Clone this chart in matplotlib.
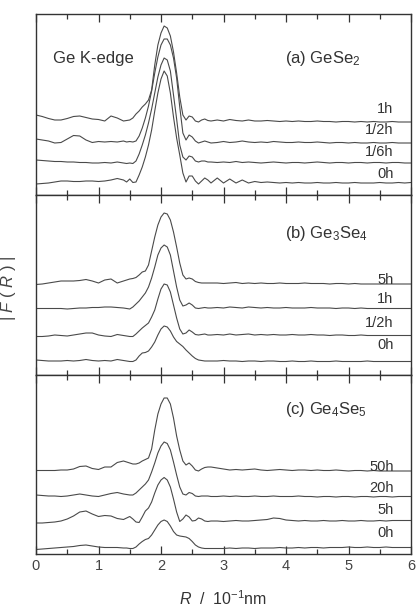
import numpy as np
import matplotlib
matplotlib.use("Agg")
import matplotlib.pyplot as plt
from matplotlib.ticker import MultipleLocator

plt.rcParams['font.family'] = ['Liberation Sans', 'DejaVu Sans']
plt.rcParams['mathtext.fontset'] = 'custom'
plt.rcParams['mathtext.rm'] = 'Liberation Sans'
plt.rcParams['mathtext.it'] = 'Liberation Sans:italic'
plt.rcParams['mathtext.bf'] = 'Liberation Sans:bold'

# R grid (10^-1 nm): coarse, fine around the first shell peak, coarse
r = np.concatenate([np.linspace(0.0, 1.4, 15),
                    np.linspace(1.45, 2.8, 28),
                    np.linspace(2.9, 6.0, 32)])

# |F(R)| (arbitrary units, offsets included)
a_0h = [11, 11.5, 12, 13, 14, 14, 13.5, 13.5, 14, 14, 13.5, 14, 15, 16.5, 15,
        13, 16, 12.5, 13, 20, 28, 38, 50, 65, 84, 102, 116, 124, 119, 102, 78, 57, 40, 22, 13,
        19, 19, 14, 11, 14, 17, 15, 12,
        17, 12, 16, 12, 15, 12, 13.5, 12.5, 13, 12.5, 12, 12.5, 12, 12.5, 12, 12,
        12.5, 12, 12, 12.5, 12, 12, 12.5, 12, 12, 12, 12.5, 12, 12, 12.5, 12, 12.5]
a_16h = [35, 34.5, 34, 33.5, 33.5, 33, 33, 32.5, 32.5, 32, 32, 32.5, 32, 33, 32,
         31.5, 32, 31.5, 34, 41, 50, 60, 72, 86, 102, 118, 130, 137, 135, 124, 100, 76, 50, 38, 35,
         39, 38, 34, 33, 34, 34, 33, 33,
         32.5, 33, 32.5, 33.5, 32.5, 33, 32.5, 32, 32.5, 33, 32.5, 32, 32.5, 32.5, 32, 32.5,
         33, 32.5, 32, 32.5, 32.5, 32, 32.5, 32.5, 32, 32.5, 32.5, 32, 32.5, 32.5, 32, 32]
a_12h = [56, 55, 54, 52, 52.5, 56, 59.5, 59, 55, 52.5, 53.5, 53, 53.5, 53, 54,
         53, 53.5, 53, 54, 59, 67, 77, 89, 104, 122, 138, 150, 156, 156, 150, 137, 117, 88, 62, 55,
         60, 58, 54, 52, 53, 54, 53, 52,
         52.5, 53.5, 52.5, 53, 54, 53, 52.5, 53, 52.5, 53.5, 53, 52.5, 52.5, 53, 52.5, 52.5,
         53, 52.5, 52, 52.5, 52.5, 52, 52.5, 52, 52, 52.5, 52, 52, 52.5, 52, 52, 52]
a_1h = [80, 78.5, 76.5, 75, 75, 76.5, 78.5, 79, 77.5, 76, 75.5, 74, 79, 77, 74,
        74.5, 75, 77, 81, 84, 88, 91, 95, 105, 130, 150, 162, 169, 167, 159, 143, 122, 98, 80, 75,
        79, 78, 74, 73, 75, 76, 74.5, 74,
        75, 74, 75.5, 74.5, 74, 75, 74, 74, 74.5, 74, 73.5, 74, 73.5, 74, 73.5, 73.5,
        74, 73.5, 73.5, 73, 73.5, 73.5, 73, 73.5, 73, 73.5, 73, 73, 73.5, 73, 73, 73]

b_0h = [15, 14.5, 14, 14, 14, 14.5, 14, 14.5, 15.5, 14.5, 14, 14.5, 14, 15.5, 14.5,
        14, 13.5, 13.5, 15, 19, 22, 22.5, 24, 28, 33, 40, 46, 49, 48, 44, 38, 33.5, 31, 28.5, 25,
        22, 19, 16.5, 15, 14.5, 14, 14, 14,
        14, 14.5, 14, 14, 13.5, 14, 14, 13.5, 14, 14, 13.5, 13.5, 14, 13.5, 13.5, 14,
        13.5, 13.5, 13.5, 14, 13.5, 13.5, 13.5, 13.5, 14, 13.5, 13.5, 13.5, 13.5, 13.5, 13.5, 13.5]
b_12h = [38.5, 38.5, 39, 40, 39.5, 39, 40, 41, 42, 42, 40, 39, 38.5, 40.5, 39.5,
         39, 38.5, 38.5, 41, 44, 47, 49.5, 52, 58, 65, 76, 86, 91, 90, 83, 70, 57, 46, 41, 42,
         45, 43, 40.5, 40, 40.5, 41, 40, 40,
         40.5, 40, 41, 40, 40.5, 41, 40, 40.5, 40, 40.5, 40, 40, 40.5, 40, 40, 40.5,
         40, 40, 39.5, 40, 40, 39.5, 39.5, 40, 39.5, 39.5, 39.5, 39.5, 39.5, 39.5, 39.5, 39.5]
b_1h = [66.5, 66.5, 66.5, 66.5, 66.5, 66, 66.5, 67, 67, 67.5, 67.5, 68, 68, 67.5, 67,
        66.5, 66, 68, 71, 74, 78, 82, 88, 97, 108, 120, 127, 130, 128, 120, 104, 88, 75, 69, 70,
        72, 70, 67, 66.5, 67, 67.5, 67, 67,
        67.5, 67, 68, 67.5, 67, 68, 67.5, 67, 67.5, 67, 67, 67.5, 67, 67, 67, 67.5,
        67, 67, 67, 66.5, 67, 67, 66.5, 67, 66.5, 66.5, 66.5, 66.5, 66.5, 66.5, 66.5, 66.5]
b_5h = [90.5, 91, 92, 93, 94, 94, 94, 94.5, 95.5, 94, 92, 95, 96, 92, 94,
        95, 96, 96.5, 97.5, 100, 103, 104, 110, 124, 138, 150, 158, 162, 161, 155, 143, 128, 112, 100, 96,
        97, 96, 93.5, 92.5, 92, 92, 92, 92,
        92, 91.5, 92, 92.5, 91.5, 92, 91.5, 92, 91.5, 91.5, 92, 91.5, 91.5, 91.5, 92, 91.5,
        91.5, 91.5, 91, 91.5, 91.5, 91, 91.5, 91, 91, 91, 91, 91, 91, 91, 91, 91]

c_0h = [4.5, 5, 5.5, 6, 6.5, 7, 7.5, 8.5, 9, 8, 7, 6.5, 6.5, 6.5, 6,
        6, 5.5, 5.5, 7, 10, 12.5, 14.5, 15.5, 19, 24, 29, 32.5, 34, 32.5, 28, 22.5, 19, 18, 17.5, 17,
        15.5, 12.5, 9, 7, 6, 5.5, 5.5, 5.5,
        5.5, 5.5, 6, 5.5, 6, 6, 5.5, 6, 6, 6, 6.5, 6, 6, 6.5, 6, 6.5,
        6.5, 6, 6.5, 6.5, 6.5, 7, 6.5, 6.5, 7, 6.5, 6.5, 7, 6.5, 6.5, 6.5, 6.5]
c_5h = [31, 31, 31.5, 32, 33, 35, 38, 42, 43, 40, 37.5, 38.5, 38, 35.5, 34.5,
        36, 37.5, 35, 32, 31.5, 37, 43, 46, 52, 61, 69, 74, 76.5, 74, 67, 55, 42, 32.5, 35, 39,
        37, 33, 33.5, 36, 35, 33, 32.5, 33,
        33, 32.5, 33, 33.5, 33, 33, 33.5, 34, 34.5, 36, 35.5, 34, 33.5, 33, 33.5, 33,
        33, 33.5, 33, 33, 33.5, 33, 33, 33.5, 33, 33, 33.5, 33, 33.5, 33.5, 33.5, 33.5]
c_20h = [59, 58.5, 58, 58, 57.5, 58, 59, 60, 59, 58, 57.5, 59, 60.5, 61.5, 60,
         59.5, 59, 59, 61, 64, 67, 70, 74, 82, 91, 101, 108, 112, 110.5, 104, 92, 79, 67, 60, 59,
         61.5, 60.5, 58, 57.5, 58, 58, 58, 57.5,
         57.5, 58, 57.5, 58, 57.5, 57.5, 58, 57.5, 57.5, 58, 57.5, 57.5, 57.5, 58, 57.5, 57.5,
         57, 57.5, 57.5, 57, 57.5, 57.5, 57, 57.5, 57.5, 57, 57.5, 57.5, 57, 57.5, 57.5, 57.5]
c_50h = [83.5, 83.5, 83.5, 83.5, 84, 84, 85, 87.5, 88, 85.5, 84.5, 87, 87, 91.5, 93,
         92, 91, 90, 90, 91, 93, 94.5, 96, 105, 124, 140, 150, 156, 156, 150, 136, 118, 104, 93, 89,
         91, 88, 84, 83, 85, 86.5, 87, 87,
         86, 85, 84, 84.5, 84, 84.5, 85, 84, 83.5, 84, 84.5, 84, 83.5, 84, 84, 83.5,
         84, 83.5, 83.5, 84, 83.5, 83, 83.5, 83.5, 83, 83.5, 83, 83, 83, 83, 83, 83]

panels = [
    ("(a) GeSe$_2$", [a_0h, a_16h, a_12h, a_1h], ["0h", "1/6h", "1/2h", "1h"]),
    ("(b) Ge$_3$Se$_4$", [b_0h, b_12h, b_1h, b_5h], ["0h", "1/2h", "1h", "5h"]),
    ("(c) Ge$_4$Se$_5$", [c_0h, c_5h, c_20h, c_50h], ["0h", "5h", "20h", "50h"]),
]
label_y = [[16.7, 39, 60.7, 81.7], [25.7, 48.3, 71.7, 91], [17.3, 39.7, 61.7, 83.3]]
title_y = [131.7, 137.3, 139.7]

W, H = 420, 610
fig = plt.figure(figsize=(W / 100, H / 100), dpi=100)
boxes = [(14, 195), (195, 375), (375, 554)]
ink = '#333333'

for i, ((title, curves, names), (top, bot)) in enumerate(zip(panels, boxes)):
    ax = fig.add_axes([36 / W, 1 - bot / H, 375 / W, (bot - top) / H])
    for y in curves:
        ax.plot(r, y, color='#4a4a4a', lw=0.8)
    for name, ly in zip(names, label_y[i]):
        ax.text(5.72, ly, name, ha='right', va='baseline', fontsize=10.5, color=ink)
    ax.text(3.98, title_y[i], title, ha='left', va='baseline', fontsize=12, color=ink)
    if i == 0:
        ax.text(0.27, 132.3, "Ge K-edge", ha='left', va='baseline', fontsize=12, color=ink)
    ax.set_xlim(0, 6)
    ax.set_ylim(0, bot - top)
    ax.set_yticks([])
    ax.xaxis.set_major_locator(MultipleLocator(1))
    ax.xaxis.set_minor_locator(MultipleLocator(0.5))
    ax.tick_params(axis='x', which='both', direction='in', top=True, bottom=True,
                   width=0.9, color=ink, labelsize=10.5, labelcolor='#444444')
    ax.tick_params(axis='x', which='major', length=6)
    ax.tick_params(axis='x', which='minor', length=3.5)
    for s in ax.spines.values():
        s.set_color(ink)
        s.set_linewidth(1.0)
    if i < 2:
        ax.tick_params(axis='x', labelbottom=False)
    else:
        ax.set_xlabel(r"$R$  /  10$^{-1}$nm", fontsize=11.5, color=ink, labelpad=12)

fig.text(8 / W, 1 - 288 / H, "| $F$ ( $R$ ) |", rotation=90, ha='center', va='center',
         fontsize=12, color='#444444')

fig.savefig("out.png", dpi=100)
